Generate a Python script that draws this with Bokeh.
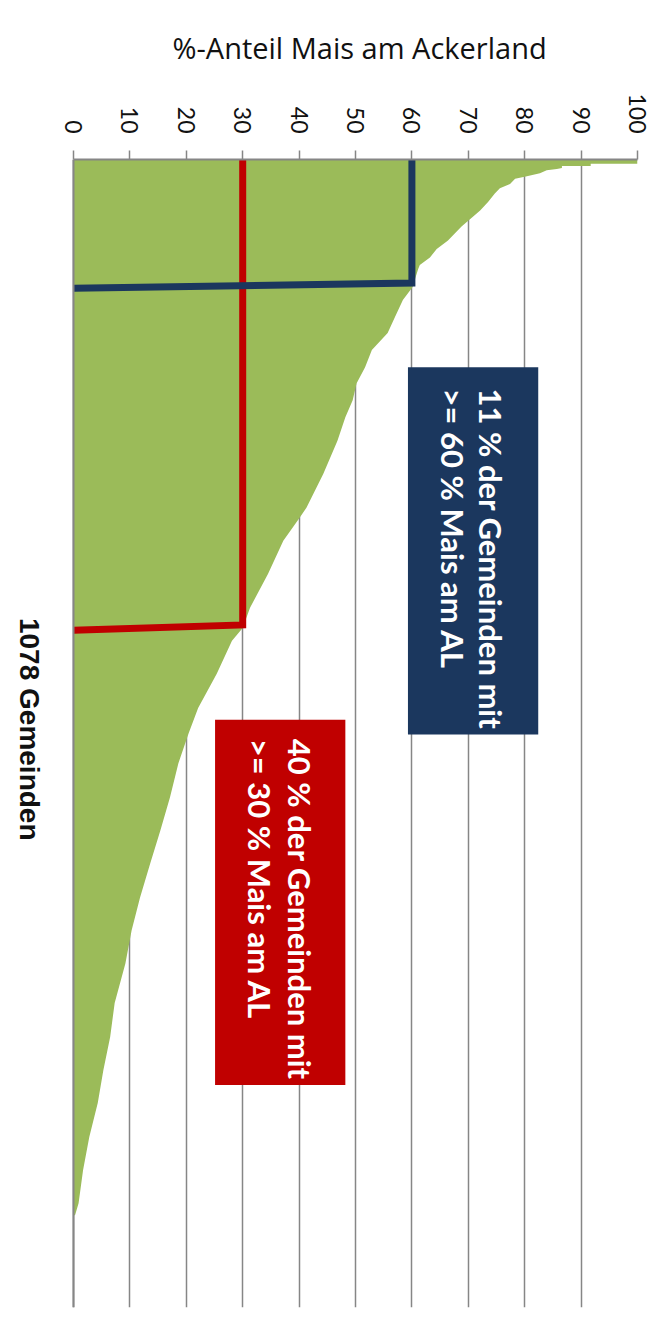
import math
from bokeh.plotting import figure
from bokeh.models import Range1d, FixedTicker, ColumnDataSource, Span
from bokeh.embed import file_html
from bokeh.resources import INLINE
from bokeh.core.properties import value

# ---------------- data ----------------
n_gemeinden = 1078
# rank position of municipality (sorted descending) and its maize share in %
rank = [0, 4, 4, 6, 6, 8, 9, 10, 13, 16, 18, 23, 27, 32, 40, 48, 56, 63, 76, 84,
        92, 99, 103, 120, 132, 148, 163, 179, 195, 210, 226, 242, 264, 295, 327,
        337, 358, 389, 421, 440, 452, 483, 515, 539, 567, 599, 630, 661, 693,
        724, 755, 792, 824, 855, 886, 918, 949, 980, 991, 992, 1078]
share = [100, 100, 91.7, 91.7, 86.6, 86.6, 85.7, 83.9, 82.7, 80.2, 78.3, 77.4,
         75.6, 74.7, 73.5, 72.1, 70.3, 68.8, 66.4, 64.4, 63.2, 61.4, 61.1, 60.1,
         58.4, 57.0, 55.7, 52.9, 51.7, 50.2, 49.5, 48.2, 46.8, 44.3, 41.3, 40.0,
         37.2, 34.5, 31.3, 30.0, 28.1, 25.4, 22.1, 20.4, 18.6, 17.1, 15.4, 13.6,
         11.8, 10.3, 9.2, 7.3, 6.5, 5.3, 4.3, 2.8, 1.7, 0.9, 0.3, 0, 0]
tick_values = [0, 10, 20, 30, 40, 50, 60, 70, 80, 90, 100]

# threshold lines: [blue 60 %, red 30 %]
thresholds = [60, 30]
pct_gemeinden = [11, 40]
cross_rank_right = [116, 437]
cross_rank_left = [121, 442]

# annotation boxes (value-axis from/to, rank from/to)
box_left = [59.3, 25.1]
box_right = [82.4, 48.2]
box_top = [195, 526]
box_bottom = [540, 869]
line1 = [f"{pct_gemeinden[0]} % der Gemeinden mit", f"{pct_gemeinden[1]} % der Gemeinden mit"]
line2 = [f">= {thresholds[0]} % Mais am AL", f">= {thresholds[1]} % Mais am AL"]
text_x1 = [74.1, 40.2]
text_x2 = [67.3, 33.1]
text_y = [215, 544]
count_label_x = -7.8
count_label_y = 535

GREEN = "#9BBB59"
NAVY = "#1B375E"
RED = "#C00000"
GRID = "#868686"

# layout (pixels)
W, H = 656, 1323
LEFT_PX, PLOT_PX, TOP_PX, FRAME_H = 73, 564, 159, 1148
x_start = -LEFT_PX * 100.0 / PLOT_PX

p = figure(width=W, height=H, output_backend="svg", toolbar_location=None,
           x_range=Range1d(x_start, 100), y_range=Range1d(n_gemeinden, 0),
           x_axis_location="above", y_axis_location=None,
           min_border_left=0, min_border_right=W - LEFT_PX - PLOT_PX,
           min_border_top=TOP_PX, min_border_bottom=H - TOP_PX - FRAME_H)
p.outline_line_color = None
p.background_fill_color = "white"
p.border_fill_color = "white"

# title
p.title.text = "%-Anteil Mais am Ackerland"
p.title.align = "left"
p.title.offset = 172
p.title.text_font = "Open Sans"
p.title.text_font_size = "29px"
p.title.text_font_style = "normal"
p.title.text_color = "#111111"
p.title.standoff = 47

# value axis (top)
ax = p.xaxis[0]
ax.bounds = (0, 100)
ax.ticker = FixedTicker(ticks=tick_values)
ax.major_label_orientation = -math.pi / 2
ax.major_label_text_font = "Lato"
ax.major_label_text_font_size = "23px"
ax.major_label_text_color = "#111111"
ax.major_label_standoff = 17
ax.major_tick_out = 9
ax.major_tick_in = 0
ax.minor_tick_line_color = None
ax.axis_line_color = GRID
ax.axis_line_width = 2
ax.major_tick_line_color = GRID
ax.major_tick_line_width = 1.5

p.xgrid.ticker = FixedTicker(ticks=tick_values)
p.xgrid.bounds = (0, n_gemeinden)
p.xgrid.grid_line_color = GRID
p.xgrid.grid_line_width = 1.5
p.ygrid.visible = False

src = ColumnDataSource(dict(rank=rank, share=share))
p.harea(y="rank", x1=0, x2="share", source=src, fill_color=GREEN)

# baseline at 0 drawn over the area
p.add_layout(Span(location=tick_values[0], dimension="height",
                  line_color=GRID, line_width=2))

# threshold lines (red first, then blue above it)
for i in (1, 0):
    col = NAVY if i == 0 else RED
    p.line(x=[thresholds[i], thresholds[i], 0],
           y=[0, cross_rank_right[i], cross_rank_left[i]],
           line_width=7, line_color=col, line_join="miter")

# boxes
p.quad(left=box_left, right=box_right, top=box_top, bottom=box_bottom,
       fill_color=[NAVY, RED], line_color=None)
p.text(x=text_x1 + text_x2, y=text_y + text_y, text=line1 + line2,
       angle=-math.pi / 2, text_align="left", text_baseline="middle",
       text_font=value("Lato"), text_font_style="bold", text_font_size="31px",
       text_color="white")

p.text(x=[count_label_x], y=[count_label_y], text=[f"{n_gemeinden} Gemeinden"],
       angle=-math.pi / 2, text_align="center", text_baseline="middle",
       text_font=value("Liberation Sans"), text_font_style="bold",
       text_font_size="28px", text_color="#111111")

open("out.html", "w").write(file_html(p, INLINE))
